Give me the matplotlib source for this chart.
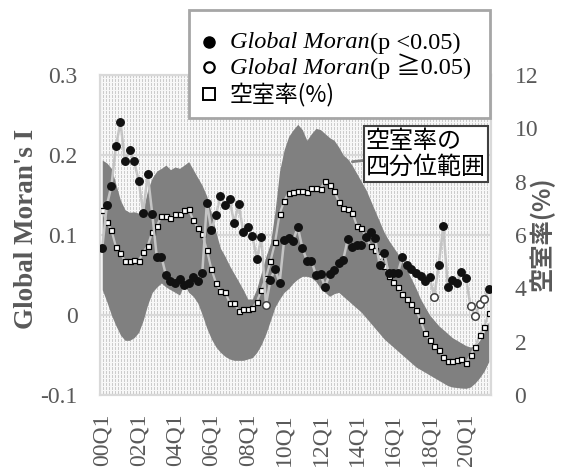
import matplotlib

matplotlib.use("Agg")
import matplotlib.pyplot as plt  # noqa: E402
import numpy as np  # noqa: E402
from matplotlib.lines import Line2D  # noqa: E402
from matplotlib.patches import Rectangle  # noqa: E402

SERIF = "Liberation Serif"
JP = "Noto Sans CJK JP"
TXT = "#595959"

# ---- data ----
quarters = [f"{y % 100:02d}Q{q}" for y in range(2000, 2022) for q in range(1, 5)][:86]
tick_labels = ["00Q1", "02Q1", "04Q1", "06Q1", "08Q1", "10Q1",
               "12Q1", "14Q1", "16Q1", "18Q1", "20Q1"]

moran_i = [
    0.084, 0.137, 0.161, 0.211, 0.241, 0.192, 0.206, 0.192, 0.168, 0.128,
    0.176, 0.126, 0.072, 0.073, 0.050, 0.043, 0.040, 0.045, 0.038, 0.040,
    0.047, 0.042, 0.053, 0.140, 0.106, 0.125, 0.149, 0.138, 0.145, 0.115,
    0.139, 0.104, 0.110, 0.099, 0.070, 0.097, 0.013, 0.044, 0.058, 0.040,
    0.094, 0.096, 0.093, 0.110, 0.084, 0.068, 0.068, 0.050, 0.051, 0.035,
    0.051, 0.056, 0.065, 0.069, 0.095, 0.085, 0.087, 0.087, 0.097, 0.104,
    0.096, 0.063, 0.077, 0.053, 0.053, 0.053, 0.072, 0.063, 0.058, 0.052,
    0.049, 0.043, 0.047, 0.023, 0.062, 0.111, 0.035, 0.044, 0.040, 0.054,
    0.046, 0.011, -0.001, 0.014, 0.020, 0.033,
]
# quarters where p >= 0.05
not_significant = ["09Q1", "18Q2", "20Q2", "20Q3", "20Q4", "21Q1"]

vacancy_median = [
    6.94, 6.48, 6.19, 5.56, 5.31, 5.02, 5.02, 5.06, 5.02, 5.35,
    5.60, 6.12, 6.34, 6.71, 6.71, 6.62, 6.79, 6.79, 6.94, 6.97,
    6.56, 6.27, 6.03, 5.44, 4.72, 4.21, 3.91, 3.87, 3.46, 3.46,
    3.16, 3.21, 3.21, 3.25, 3.50, 3.94, 4.40, 5.02, 5.72, 6.79,
    7.27, 7.59, 7.62, 7.66, 7.66, 7.62, 7.75, 7.75, 7.71, 8.04,
    7.87, 7.66, 7.25, 7.00, 6.96, 6.84, 6.34, 6.27, 5.91, 5.59,
    5.44, 5.21, 4.85, 4.48, 4.24, 4.06, 3.80, 3.60, 3.40, 3.19,
    2.80, 2.31, 2.07, 1.83, 1.69, 1.44, 1.29, 1.28, 1.30, 1.34,
    1.19, 1.50, 1.81, 2.25, 2.56, 3.06,
]
vacancy_q1 = [
    3.95, 3.50, 3.00, 2.60, 2.25, 2.05, 2.05, 2.15, 2.35, 2.80,
    3.40, 3.85, 4.05, 4.20, 4.05, 3.95, 3.85, 3.75, 4.15, 3.85,
    3.70, 3.45, 3.00, 2.50, 2.10, 1.80, 1.60, 1.45, 1.35, 1.30,
    1.30, 1.30, 1.35, 1.40, 1.60, 1.90, 2.30, 2.80, 3.30, 3.60,
    3.85, 4.00, 4.20, 4.35, 4.45, 4.45, 4.40, 4.25, 4.00, 3.85,
    3.70, 3.80, 3.85, 3.70, 3.55, 3.40, 3.25, 3.10, 2.90, 2.70,
    2.50, 2.30, 2.10, 1.95, 1.80, 1.65, 1.50, 1.35, 1.20, 1.05,
    0.95, 0.85, 0.75, 0.65, 0.55, 0.45, 0.35, 0.30, 0.28, 0.26,
    0.25, 0.30, 0.45, 0.65, 0.90, 1.25,
]
vacancy_q3 = [
    8.81, 8.70, 8.50, 7.90, 7.30, 6.95, 6.85, 6.87, 6.82, 6.95,
    7.70, 8.15, 8.40, 8.50, 8.62, 8.45, 8.55, 8.50, 8.62, 8.75,
    8.45, 8.15, 7.85, 7.45, 6.80, 6.10, 5.50, 5.20, 4.85, 4.55,
    4.25, 3.95, 3.60, 3.60, 4.00, 4.60, 5.20, 5.70, 6.90, 8.40,
    9.20, 9.70, 9.95, 10.15, 9.95, 9.55, 9.80, 10.00, 9.95, 9.80,
    9.65, 9.55, 9.30, 9.00, 8.85, 8.60, 8.30, 8.00, 7.70, 7.30,
    6.90, 6.50, 6.10, 5.80, 5.55, 5.30, 5.00, 4.70, 4.35, 4.00,
    3.60, 3.30, 3.00, 2.80, 2.60, 2.45, 2.30, 2.15, 2.05, 1.95,
    1.85, 1.80, 1.85, 2.05, 2.35, 2.75,
]

# ---- layout (pixels of the 563x468 output) ----
W, H = 563, 468
L, R, T, B = 100, 491, 75, 395


def fx(px):
    return px / W


def fy(py):
    return 1 - py / H


fig = plt.figure(figsize=(W / 100, H / 100), dpi=100)
fig.patch.set_facecolor("white")

# dashed-vertical pattern fill of the plot area
rows, cols = np.mgrid[0:B - T, 0:R - L]
shade = np.where((cols % 3 == 0) & (rows % 4 != 3), 0.80, 0.97)
tex = np.dstack([shade, shade, shade])
fig.figimage(tex, xo=L, yo=H - B, zorder=-1)

rect = [fx(L), fy(B), fx(R) - fx(L), fy(T) - fy(B)]
ax = fig.add_axes(rect)          # Moran scale: grid + axis
ax2 = ax.twinx()                 # vacancy scale: band + median
ax3 = fig.add_axes(rect, sharex=ax, sharey=ax)  # Moran marks on top
ax.patch.set_visible(False)
ax3.patch.set_visible(False)
ax3.axis("off")

x = np.arange(len(quarters))

ax2.fill_between(x, vacancy_q1, vacancy_q3, color="#808080", lw=0, zorder=1)
ax2.plot(x, vacancy_median, color="#c4c4c4", lw=1.6, zorder=2,
         marker="s", ms=3.6, mfc="white", mec="black", mew=0.9)

sig = [q not in not_significant for q in quarters]
mi = np.array(moran_i)
ax3.plot(x, mi, color="#c4c4c4", lw=1.8, zorder=1)
ax3.plot(x[sig], mi[sig], "o", ms=5.4, color="#111111", zorder=3)
ns = ~np.array(sig)
ax3.plot(x[ns], mi[ns], "o", ms=5.4, mfc="white", mec="#404040",
         mew=1.1, zorder=3)

# axes styling
ax.set_xlim(-0.5, len(quarters) - 0.5)
ax.set_ylim(-0.1, 0.3)
ax.set_yticks([0.3, 0.2, 0.1, 0, -0.1])
ax.set_yticklabels(["0.3", "0.2", "0.1", "0", "-0.1"])
ax.set_xticks([quarters.index(t) for t in tick_labels])
ax.set_xticklabels(tick_labels, rotation=90)
ax.grid(axis="y", color="#d9d9d9", lw=1.5)
ax.set_axisbelow(True)
ax.tick_params(axis="y", length=0, pad=16, labelsize=17, labelcolor=TXT)
ax.tick_params(axis="x", length=0, pad=13, labelsize=17, labelcolor=TXT)
for lab in ax.get_xticklabels() + ax.get_yticklabels():
    lab.set_family(SERIF)

ax2.set_ylim(0, 12)
ax2.set_yticks(range(0, 13, 2))
ax2.tick_params(axis="y", length=0, pad=17, labelsize=17, labelcolor=TXT)
for lab in ax2.get_yticklabels():
    lab.set_family(SERIF)

for a in (ax, ax2):
    for s in a.spines.values():
        s.set_color("#d9d9d9")
        s.set_linewidth(1.5)

fig.text(fx(27), fy(229), "Global Moran's I", rotation=90, ha="center",
         va="center", family=SERIF, weight="bold", size=19.5, color=TXT)
fig.text(fx(542), fy(234), "空室率(%)", rotation=90, ha="center",
         va="center", family=[JP], weight="bold", size=17.5, color=TXT)

# IQR callout
ax2.annotate("空室率の\n四分位範囲", xy=(55, 8.75), xycoords="data",
             xytext=(fx(366), fy(154)), textcoords="figure fraction",
             ha="left", va="center", family=JP, size=17.3, linespacing=0.98,
             color="black", zorder=6,
             bbox=dict(boxstyle="square,pad=0.1", fc="white",
                       ec="#404040", lw=1.5),
             arrowprops=dict(arrowstyle="-", color="#808080", lw=2,
                             shrinkA=0, shrinkB=0))

# ---- legend drawn by hand (mixed italic / upright text) ----
fig.add_artist(Rectangle((fx(189), fy(117.5)), fx(490) - fx(189),
                         fy(10) - fy(117.5), transform=fig.transFigure,
                         fc="white", ec="#a6a6a6", lw=2, zorder=5))
renderer = fig.canvas.get_renderer()
rows_y = [48.5, 74, 101]
marker_styles = [
    dict(marker="o", ms=8, mfc="black", mec="black"),
    dict(marker="o", ms=7.5, mfc="white", mec="black", mew=1.6),
    dict(marker="s", ms=8, mfc="white", mec="black", mew=1.4),
]
for by, ms in zip(rows_y, marker_styles):
    fig.add_artist(Line2D([fx(209)], [fy(by - 7)], transform=fig.transFigure,
                          ls="none", zorder=6, **ms))

legend_text = [
    [("Global Moran", "italic"), ("(p <0.05)", "normal")],
    [("Global Moran", "italic"), ("(p \u22670.05)", "normal")],
]
for by, pieces in zip(rows_y[:2], legend_text):
    px = 230
    for s, st in pieces:
        t = fig.text(fx(px), fy(by), s, style=st, family=[SERIF, JP],
                     size=17.5, va="baseline", zorder=6)
        px = t.get_window_extent(renderer).x1
fig.text(fx(230), fy(rows_y[2]), "空室率(%)", family=JP, size=16.5,
         va="baseline", zorder=6)

fig.savefig("out.png", dpi=100)
